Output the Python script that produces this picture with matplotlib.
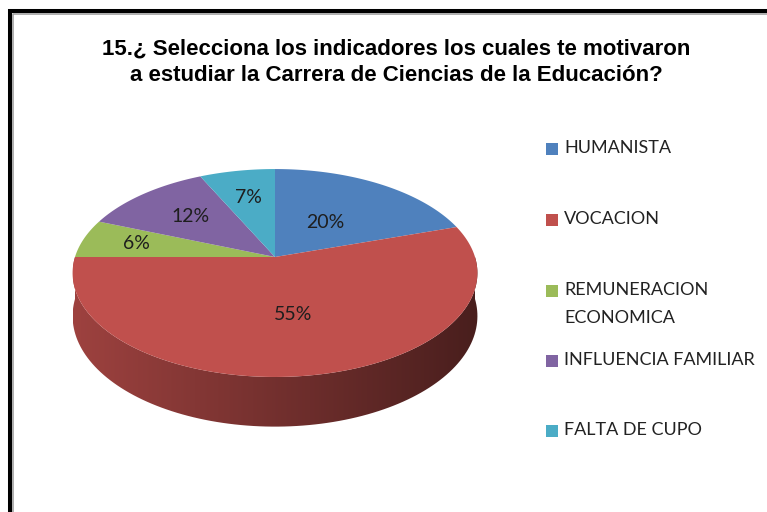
import numpy as np
import matplotlib.pyplot as plt
from matplotlib.patches import Polygon, Rectangle
from matplotlib.colors import to_rgb

# data
categories = ['HUMANISTA', 'VOCACION', 'REMUNERACION\nECONOMICA',
              'INFLUENCIA FAMILIAR', 'FALTA DE CUPO']
percentages = [20, 55, 6, 12, 7]
colors = ['#4f81bd', '#c0504d', '#9bbb59', '#8064a2', '#4bacc6']
title = ('15.¿ Selecciona los indicadores los cuales te motivaron\n'
         'a estudiar la Carrera de Ciencias de la Educación?')

# layout (pixels)
label_r = [0.45, 0.53, 0.72, 0.62, 0.66]   # radial position of % labels
legend_y = [148, 219, 290, 360, 430]       # legend rows (first line)

W, H = 767, 512
fig = plt.figure(figsize=(W / 100, H / 100), dpi=100)
ax = fig.add_axes([0, 0, 1, 1])
ax.set_xlim(0, W)
ax.set_ylim(H, 0)
ax.axis('off')

# 3d pie geometry, excel-like perspective
cx, cy = 275, 257
rx, ry = 200, 101.5
k = 0.154
depth = 42


def project(theta, r=1.0, z=0.0):
    s = r * np.sin(theta)
    c = r * np.cos(theta)
    d = 1 + k * s
    return cx + rx * c / d, cy - ry * s / d + z / d


fracs = np.array(percentages) / sum(percentages)
ends = 90 - np.cumsum(fracs) * 360
starts = np.concatenate([[90], ends[:-1]])

# side wall (front half only: -180..0 deg)
for t1, t2, col in zip(starts, ends, colors):
    lo, hi = max(t2, -180), min(t1, 0)
    if hi <= lo:
        continue
    th = np.radians(np.linspace(lo, hi, 120))
    tx, ty = project(th)
    bx, by = project(th[::-1], z=depth)
    pts = np.column_stack([np.concatenate([tx, bx]), np.concatenate([ty, by])])
    poly = Polygon(pts, closed=True, facecolor='none', edgecolor='none')
    ax.add_patch(poly)
    x0, x1 = pts[:, 0].min(), pts[:, 0].max()
    y0, y1 = pts[:, 1].min(), pts[:, 1].max()
    f = np.linspace(0.82, 0.38, 256)
    grad = (np.array(to_rgb(col))[None, :] * f[:, None])[None, :, :]
    im = ax.imshow(grad, extent=[x0, x1, y1, y0], aspect='auto',
                   interpolation='bilinear', zorder=1)
    im.set_clip_path(poly)

# top face
for t1, t2, col in zip(starts, ends, colors):
    th = np.radians(np.linspace(t1, t2, 150))
    ex, ey = project(th)
    ax.add_patch(Polygon(np.column_stack([np.r_[cx, ex], np.r_[cy, ey]]),
                         closed=True, facecolor=col, edgecolor='none', zorder=2))

# percentage labels
for t1, t2, p, r in zip(starts, ends, percentages, label_r):
    mid = np.radians((t1 + t2) / 2)
    lx, ly = project(mid, r=r)
    ax.text(lx, ly, f'{p}%', ha='center', va='center', fontsize=14,
            family='Lato', color='#1e1e1e', zorder=3)

ax.text(396, 62, title, ha='center', va='center', fontsize=16,
        fontweight='bold', family='Liberation Sans', linespacing=1.33)

# legend
for name, col, y in zip(categories, colors, legend_y):
    ax.add_patch(Rectangle((546, y - 5), 12, 12, facecolor=col,
                           edgecolor='none'))
    for i, line in enumerate(name.split('\n')):
        ax.text(564, y + i * 28, line, ha='left', va='center', fontsize=13,
                family='Lato', color='#222222')

# chart frame (left and top edges visible)
ax.plot([10, 10, W + 5], [H + 5, 11, 11], color='black', lw=2.9,
        solid_joinstyle='miter', zorder=5)
ax.plot([13, 13, W + 5], [H + 5, 14, 14], color='#999999', lw=1.1, zorder=5)

fig.savefig('out.png', dpi=100)
